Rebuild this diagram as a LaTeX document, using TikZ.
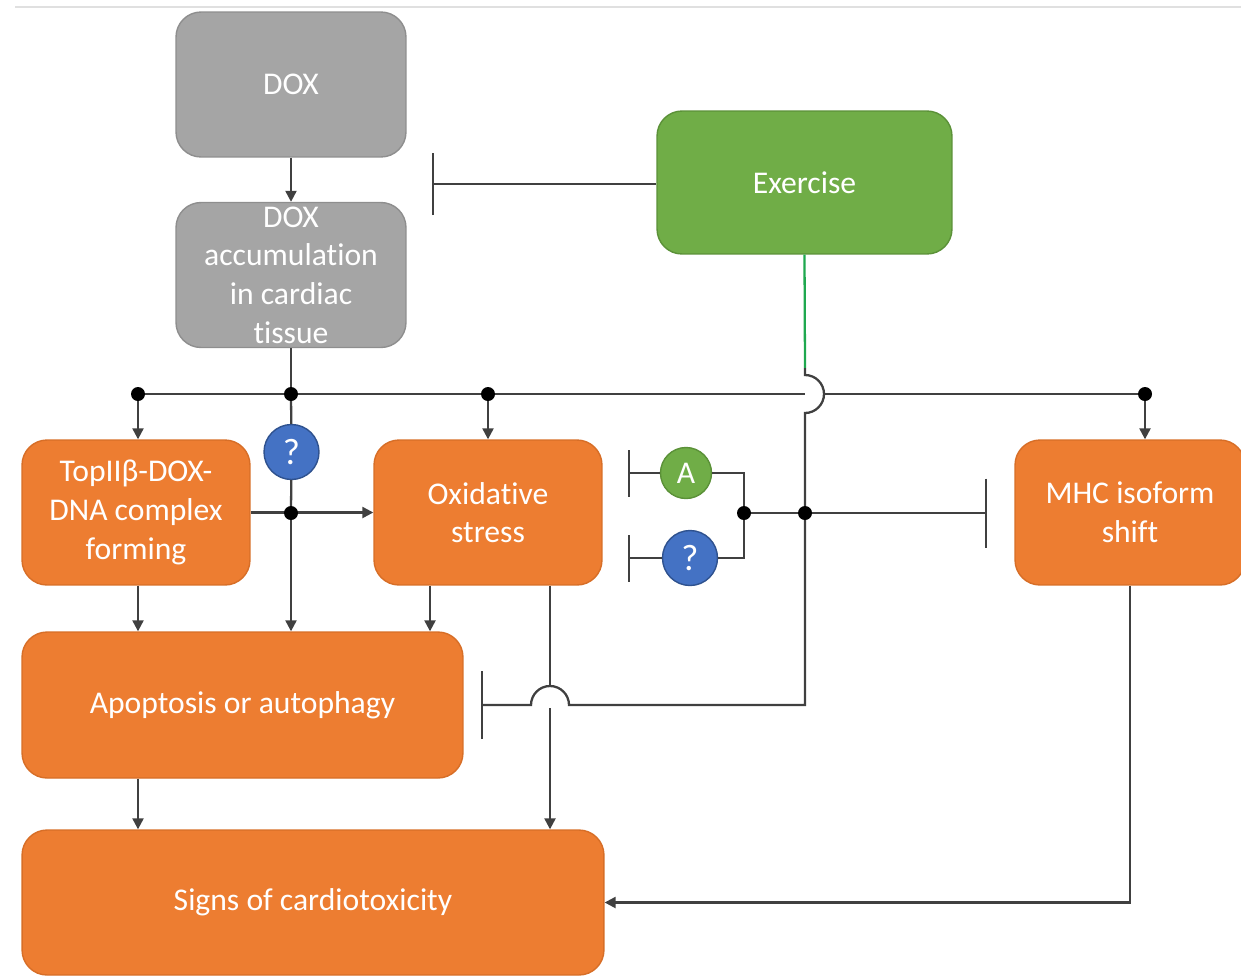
\documentclass[tikz,border=0pt]{standalone}
\usepackage{fontspec}
\setmainfont{Carlito}[Ligatures=NoCommon]
\usetikzlibrary{arrows.meta}

\definecolor{doxgray}{HTML}{A5A5A5}
\definecolor{doxgrayline}{HTML}{8E8E8E}
\definecolor{exgreen}{HTML}{70AD47}
\definecolor{exgreenline}{HTML}{5B9138}
\definecolor{exwire}{HTML}{1FA84F}
\definecolor{effect}{HTML}{ED7D31}
\definecolor{effectline}{HTML}{D76E27}
\definecolor{unknown}{HTML}{4472C4}
\definecolor{unknownline}{HTML}{2F528F}
\definecolor{wire}{HTML}{404040}

\tikzset{
	box/.style={rounded corners=0.5cm, line width=0.8pt, text=white, align=center,
		font=\fontsize{18}{22}\selectfont, minimum width=4.6cm, minimum height=2.9cm, inner sep=2pt},
	boxtext/.style={text=white, align=center, font=\fontsize{18}{22}\selectfont},
	graybox/.style={box, fill=doxgray, draw=doxgrayline},
	greenbox/.style={box, fill=exgreen, draw=exgreenline},
	orangebox/.style={box, fill=effect, draw=effectline},
	bubble/.style={circle, minimum size=1.1cm, inner sep=0pt, line width=0.8pt, text=white,
		font=\fontsize{21}{22}\selectfont},
	blocks/.style={-{Bar[width=#1]}},
}

\begin{document}
\begin{tikzpicture}[x=0.02cm, y=-0.02cm, line width=1.3pt, draw=wire,
	>={Triangle[length=0.22cm,width=0.22cm]}]
	\useasboundingbox (0,0) rectangle (1241,975);
	\draw[line width=1.5pt, draw=black!12] (15,7) -- (1241,7);

	\node[graybox] (dox) at (291,84.5) {DOX};
	\node[graybox] (acc) at (291,275) {};
	\node[boxtext] at (acc) {DOX\\accumulation\\in cardiac\\tissue};
	\node[greenbox, minimum width=5.9cm, minimum height=2.86cm] (ex) at (804.5,182.5) {Exercise};
	\node[orangebox, minimum width=4.56cm] (top) at (136,512.5) {TopIIβ-DOX-\\DNA complex\\forming};
	\node[orangebox, minimum width=4.56cm] (oxi) at (488,512.5) {Oxidative\\stress};
	\node[orangebox] (mhc) at (1130,512.5) {MHC isoform\\shift};
	\node[orangebox, minimum width=8.82cm, minimum height=2.92cm] (apo) at (242.5,705) {Apoptosis or autophagy};
	\node[orangebox, minimum width=11.64cm] (sig) at (313,902.5) {Signs of cardiotoxicity};

	\node[bubble, fill=unknown, draw=unknownline] (q1) at (291.5,452) {?};
	\node[bubble, fill=exgreen, draw=exgreenline, minimum size=1.02cm,
		font=\fontsize{18}{22}\selectfont] (ca) at (686,473) {A};
	\node[bubble, fill=unknown, draw=unknownline] (q2) at (690,558) {?};

	\coordinate (b1) at (138,394); \coordinate (b2) at (291,394);
	\coordinate (b3) at (488,394); \coordinate (b4) at (1145,394);
	\coordinate (bx) at (805,394); \coordinate (bxr) at (824,394);
	\coordinate (bxt) at (805,375);
	\coordinate (m1) at (291,513); \coordinate (m2) at (744,513);
	\coordinate (m3) at (805,513);
	\coordinate (o1) at (430,610);
	\coordinate (h2) at (550,705); \coordinate (h2r) at (569,705);
	\coordinate (h2t) at (550,686); \coordinate (h2b) at (550,708);
	\coordinate (exi) at (432,184); \coordinate (apoi) at (481,705);
	\coordinate (mhci) at (987,513);
	\coordinate (cai) at (628,473); \coordinate (cqi) at (628,558);

	\draw[->] (dox) -- (acc);
	\draw[blocks=1.24cm] (ex.west |- exi) -- (exi);
	\draw (acc) -- (b2);
	\draw (b1) -- (bx);
	\draw (bxr) -- (b4);
	\draw[->] (b1) -- (b1 |- top.north);
	\draw[->] (b3) -- (b3 |- oxi.north);
	\draw[->] (b4) -- (b4 |- mhc.north);
	\draw (b2) -- (q1);
	\draw (q1) -- (m1);
	\draw[->] (m1) -- (m1 |- apo.north);
	\draw[->] (top) -- (oxi);
	\draw[->] (top.south -| b1) -- (b1 |- apo.north);
	\draw[->] (oxi.south -| o1) -- (o1 |- apo.north);
	\draw (oxi.south -| h2) -- (h2t);
	\draw[->] (h2b) -- (h2b |- sig.north);
	\draw[->] (apo.south -| b1) -- (b1 |- sig.north);
	\draw[->] (mhc.south) -- (mhc.south |- sig.east) -- (sig.east);

	\draw[draw=exwire] (ex.south) -- (bxt |- 0,368);
	\draw (bxt |- 0,368) -- (bxt) arc[start angle=90, end angle=-90, radius=0.38cm]
		-- (m3) -- (m3 |- h2) -- (h2r) arc[start angle=0, end angle=180, radius=0.38cm]
		[blocks=1.36cm] -- (apoi);
	\draw[blocks=1.38cm] (m3) -- (mhci);
	\draw (m2) -- (m3);
	\draw (ca.east) -| (m2);
	\draw (q2.east) -| (m2);
	\draw[blocks=0.94cm] (ca.west) -- (cai);
	\draw[blocks=0.94cm] (q2.west) -- (cqi);

	\foreach \p in {b1,b2,b3,b4,m1,m2,m3}
	{
		\fill[black] (\p) circle [radius=0.14cm];
	}
\end{tikzpicture}
\end{document}
